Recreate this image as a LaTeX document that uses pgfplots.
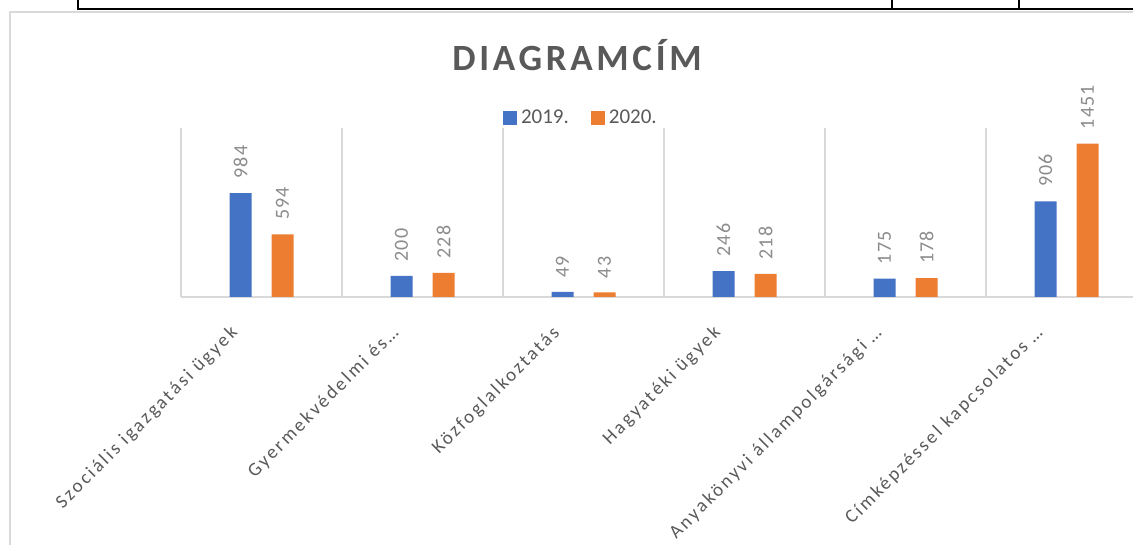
\documentclass[border=0pt]{standalone}
\usepackage{pgfplots}
\pgfplotsset{compat=1.18}
\usepackage{fontspec}
\setmainfont{Carlito}
\newfontfamily\titlefont[LetterSpace=10]{Carlito}
\newfontfamily\labfont[LetterSpace=13]{Carlito}
\newfontfamily\numfont[LetterSpace=6]{Carlito}
\definecolor{xlblue}{HTML}{4472C4}
\definecolor{xlorange}{HTML}{ED7D31}
\definecolor{xlgrid}{HTML}{D9D9D9}
\definecolor{xltext}{HTML}{595959}
\definecolor{xllab}{HTML}{8C8C8C}
\begin{document}
\begin{tikzpicture}
\useasboundingbox (0pt,0pt) rectangle (566.5pt,272.5pt);
\clip (0pt,0pt) rectangle (566.5pt,272.5pt);
\fill[white] (0pt,0pt) rectangle (566.5pt,272.5pt);
% table fragment above the chart
\draw[black, line width=0.9pt] (39pt,272.5pt) -- (39pt,268pt) -- (570pt,268pt);
\draw[black, line width=0.9pt] (446pt,272.5pt) -- (446pt,268pt);
\draw[black, line width=0.9pt] (509.5pt,272.5pt) -- (509.5pt,268pt);
% chart frame
\draw[xlgrid, line width=1.3pt] (5pt,-5pt) -- (5pt,266.5pt) -- (575pt,266.5pt);
% title
\node[text=xltext, inner sep=0pt] at (288.5pt,245pt) {\titlefont\bfseries\fontsize{18.5}{20}\selectfont DIAGRAMCÍM};
\begin{axis}[
  at={(90.5pt,124pt)}, anchor=south west,
  scale only axis, width=483pt, height=84.5pt,
  xmin=-0.5, xmax=5.5, ymin=0, ymax=1600,
  ybar,
  axis y line=none,
  axis x line*=bottom,
  x axis line style={draw=xlgrid, line width=1pt, -},
  xtick={0,1,2,3,4,5},
  minor xtick={-0.5,0.5,1.5,2.5,3.5,4.5,5.5},
  xminorgrids=true,
  minor grid style={draw=xlgrid, line width=0.7pt},
  major tick length=0pt, minor tick length=0pt,
  xticklabels={Szociális  igazgatási  ügyek, Gyermekvédelmi  és…, Közfoglalkoztatás, Hagyatéki  ügyek, Anyakönyvi  állampolgársági …, Címképzéssel  kapcsolatos …},
  xticklabel style={rotate=45, anchor=north east, text=xltext, font=\labfont\fontsize{9.5}{11}\selectfont, xshift=-21pt, yshift=2pt, inner sep=0pt},
  /pgf/number format/1000 sep={},
  /pgf/number format/assume math mode=true,
  nodes near coords,
  every node near coord/.append style={rotate=90, anchor=west, inner xsep=7pt, inner ysep=0pt, text=xllab, font=\numfont\fontsize{10}{12}\selectfont},
  clip=false,
  legend columns=2,
  legend style={at={(0.415,1.06)}, anchor=center, draw=none, fill=none, font=\fontsize{10.5}{12}\selectfont, text=xltext,
    /tikz/every even column/.append style={column sep=9pt}, inner sep=0pt},
  legend image code/.code={\fill[#1] (0pt,-3.5pt) rectangle (7pt,3.5pt);},
]
\addplot[fill=xlblue, draw=none, bar width=11pt, bar shift=-10.5pt] coordinates {(0,984) (1,200) (2,49) (3,246) (4,175) (5,906)};
\addplot[fill=xlorange, draw=none, bar width=11pt, bar shift=10.5pt] coordinates {(0,594) (1,228) (2,43) (3,218) (4,178) (5,1451)};
\legend{2019., 2020.}
\end{axis}
\end{tikzpicture}
\end{document}
